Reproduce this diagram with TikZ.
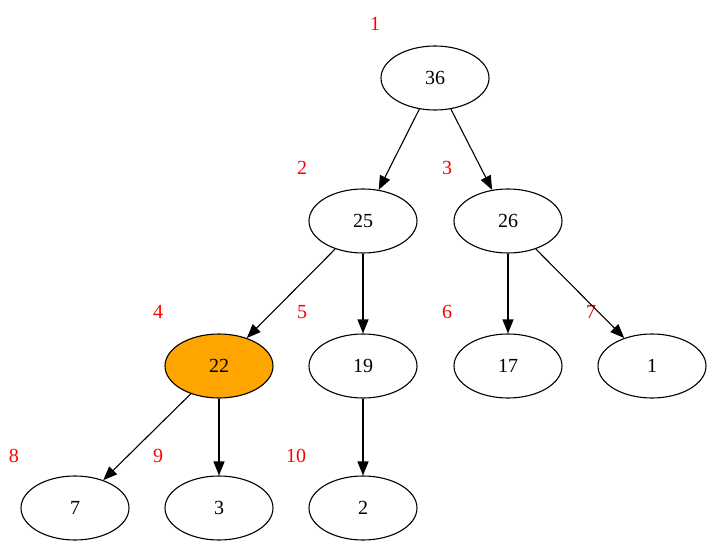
\documentclass[tikz,border=0pt]{standalone}
\usepackage{fontspec}
\setmainfont{Liberation Serif}
\usetikzlibrary{shapes.geometric,arrows.meta}
\begin{document}
\begin{tikzpicture}[x=1pt,y=-1pt,
  nd/.style={ellipse,draw,line width=1.1pt,minimum width=108pt,minimum height=64pt,inner sep=0pt,font=\fontsize{20}{20}\selectfont},
  lb/.style={text=red,font=\fontsize{20}{20}\selectfont},
  ed/.style={line width=1.1pt,-{Triangle[length=14pt,width=11pt]}}]
\useasboundingbox (0,0) rectangle (714,553);
\node[nd] (n36) at (435,78) {36};
\node[nd] (n25) at (363,221) {25};
\node[nd] (n26) at (508,221) {26};
\node[nd,fill={rgb,255:red,255;green,165;blue,0}] (n22) at (219,366) {22};
\node[nd] (n19) at (363,366) {19};
\node[nd] (n17) at (508,366) {17};
\node[nd] (n1) at (652,366) {1};
\node[nd] (n7) at (75,508) {7};
\node[nd] (n3) at (219,508) {3};
\node[nd] (n2) at (363,508) {2};
\node[lb] (l1) at (375,24) {1};
\node[lb] (l2) at (302,168) {2};
\node[lb] (l3) at (447,168) {3};
\node[lb] (l4) at (158,312) {4};
\node[lb] (l5) at (302,312) {5};
\node[lb] (l6) at (447,312) {6};
\node[lb] (l7) at (591,312) {7};
\node[lb] (l8) at (14,456) {8};
\node[lb] (l9) at (158,456) {9};
\node[lb] (l10) at (296,456) {10};
\draw[ed] (n36) -- (n25);
\draw[ed] (n36) -- (n26);
\draw[ed] (n25) -- (n22);
\draw[ed] (n25) -- (n19);
\draw[ed] (n26) -- (n17);
\draw[ed] (n26) -- (n1);
\draw[ed] (n22) -- (n7);
\draw[ed] (n22) -- (n3);
\draw[ed] (n19) -- (n2);
\end{tikzpicture}
\end{document}
